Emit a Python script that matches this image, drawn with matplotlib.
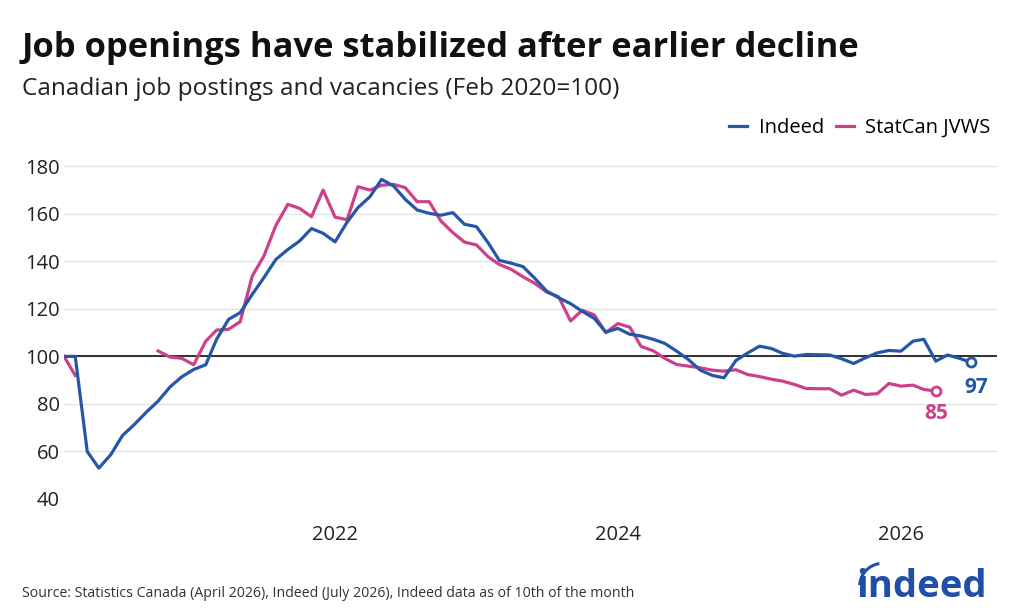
import matplotlib
matplotlib.use("Agg")
import matplotlib.pyplot as plt
import matplotlib.dates as mdates
from matplotlib.patches import Arc
import numpy as np
import pandas as pd

plt.rcParams["font.family"] = ["Open Sans", "DejaVu Sans"]

# monthly data, Feb 2020 .. Jul 2026
months = pd.date_range("2020-02-01", periods=78, freq="MS")

indeed = [
    100, 100, 60, 53, 58.7, 66.7, 71.4, 76.6, 81.2, 87.2, 91.4, 94.5,
    96.5, 107.2, 115.6, 118.4, 126.1, 133.1, 140.8, 145, 148.5, 153.8, 151.8, 148.2,
    156.5, 162.6, 167.2, 174.5, 171.7, 166.1, 161.6, 160.2, 159.4, 160.5, 155.6, 154.6,
    147.6, 140.4, 139.2, 137.8, 132.8, 127.5, 124.7, 122.2, 119, 116, 110.2, 111.8,
    109.3, 108.6, 107.2, 105.5, 102.2, 98.7, 94.2, 92, 91, 98.3, 101.4, 104.3,
    103.3, 101.3, 100.1, 100.8, 100.7, 100.6, 99, 97, 99.4, 101.5, 102.5, 102.2,
    106.4, 107.2, 98, 100.6, 99.2, 97.5,
]

statcan = [
    100, 92, np.nan, np.nan, np.nan, np.nan, np.nan, np.nan, 102.3, 99.7, 99.2, 96.5,
    106.4, 111.1, 111.4, 114.6, 133.8, 142.2, 155.1, 164, 162.3, 158.8, 170, 158.6,
    157.5, 171.4, 170, 172, 172.4, 171, 165.1, 165.1, 157, 152.1, 148.1, 146.9,
    141.8, 138.7, 136.6, 133.5, 130.7, 127.1, 125.1, 114.9, 119.4, 117.5, 110, 113.8,
    112.3, 104.2, 102.4, 99.2, 96.6, 95.9, 95.2, 94.2, 93.8, 94.4, 92.4, 91.5,
    90.4, 89.6, 88.2, 86.5, 86.4, 86.4, 83.7, 85.8, 84, 84.3, 88.6, 87.5,
    87.9, 86.1, 85.4,
]
statcan_months = months[: len(statcan)]

year_ticks = pd.to_datetime(["2022-01-01", "2024-01-01", "2026-01-01"])
y_ticks = [40, 60, 80, 100, 120, 140, 160, 180]

BLUE = "#2557a7"
PINK = "#cc4189"

fig = plt.figure(figsize=(10.24, 6.14), dpi=100)
ax = fig.add_axes([0.0625, 0.1873, 0.9115, 0.5651])

ax.plot(months, indeed, color=BLUE, lw=2.3, label="Indeed", zorder=4)
ax.plot(statcan_months, statcan, color=PINK, lw=2.3, label="StatCan JVWS", zorder=3)
ax.axhline(100, color="#222222", lw=1.3, zorder=2)

ax.plot(months[-1], indeed[-1], "o", ms=6.5, mfc="white", mec=BLUE, mew=2, zorder=5)
ax.plot(statcan_months[-1], statcan[-1], "o", ms=6.5, mfc="white", mec=PINK, mew=2, zorder=5)
ax.annotate(f"{int(indeed[-1])}", (months[-1], indeed[-1]), xytext=(4, -18),
            textcoords="offset points", ha="center", va="center",
            color=BLUE, fontsize=15, fontweight="bold")
ax.annotate(f"{int(statcan[-1])}", (statcan_months[-1], statcan[-1]), xytext=(0, -16),
            textcoords="offset points", ha="center", va="center",
            color=PINK, fontsize=15, fontweight="bold")

ax.set_xlim(pd.Timestamp("2020-02-01"), pd.Timestamp("2026-09-07"))
ax.set_ylim(40, 186)
ax.set_yticks(y_ticks)
ax.set_xticks(year_ticks)
ax.xaxis.set_major_formatter(mdates.DateFormatter("%Y"))
ax.tick_params(axis="both", length=0, labelsize=14.5, colors="#222222")
ax.tick_params(axis="x", pad=19)
ax.tick_params(axis="y", pad=3)
ax.grid(axis="y", color="#e3e3e3", lw=1)
for s in ax.spines.values():
    s.set_visible(False)
ax.set_axisbelow(True)

ax.legend(loc="upper right", bbox_to_anchor=(1.012, 1.15), ncol=2, frameon=False,
          fontsize=14.5, handlelength=0.9, handletextpad=0.55, columnspacing=0.6)

fig.text(0.021, 0.907, "Job openings have stabilized after earlier decline",
         fontsize=24.8, fontweight="bold", color="#111111", va="baseline")
fig.text(0.021, 0.846, "Canadian job postings and vacancies (Feb 2020=100)",
         fontsize=17.6, color="#222222", va="baseline")
fig.text(0.021, 0.028, "Source: Statistics Canada (April 2026), Indeed (July 2026), Indeed data as of 10th of the month",
         fontsize=10.2, color="#333333", va="baseline")

# indeed wordmark
fig.text(0.836, 0.028, "indeed", fontsize=27.5, fontweight="bold", color="#1f4fa8",
         va="baseline", ha="left")
fig.add_artist(Arc((0.862, 0.045), 0.045, 0.075, theta1=95, theta2=175,
                   transform=fig.transFigure, color="#1f4fa8", lw=2.2))

fig.savefig("out.png", dpi=100)
